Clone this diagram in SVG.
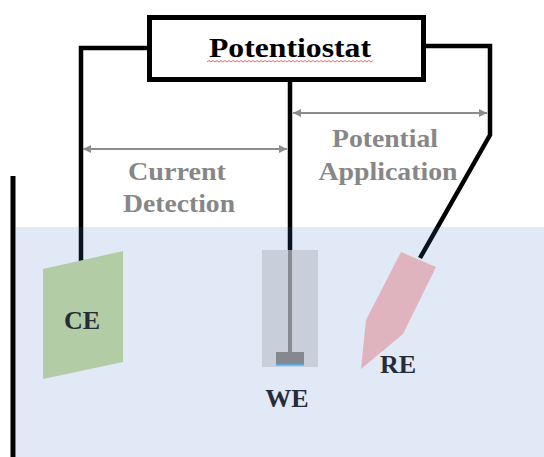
<svg xmlns="http://www.w3.org/2000/svg" width="544" height="457" viewBox="0 0 544 457">
  <defs>
    <marker id="arrowHead" viewBox="0 0 10 10" refX="10" refY="5" markerWidth="10" markerHeight="8" markerUnits="userSpaceOnUse" orient="auto-start-reverse">
      <path d="M0,0 L10,5 L0,10 Z" fill="#8c8c8c"/>
    </marker>
  </defs>
  <style>
    .wire { fill: none; stroke: #000; stroke-width: 4.5; stroke-linejoin: miter; }
    .dim { fill: none; stroke: #8c8c8c; stroke-width: 2; marker-start: url(#arrowHead); marker-end: url(#arrowHead); }
    .dimText { font-family: "Liberation Serif", "Times New Roman", serif; font-weight: bold; font-size: 25px; fill: #878787; text-anchor: middle; }
    .label { font-family: "Liberation Serif", "Times New Roman", serif; font-weight: bold; font-size: 26px; fill: #262b36; text-anchor: middle; }
  </style>

  <rect x="0" y="0" width="544" height="457" fill="#ffffff"/>

  <!-- container wall -->
  <line x1="13" y1="176" x2="13" y2="457" stroke="#000" stroke-width="5"/>

  <!-- connectors: wires from the potentiostat to the electrodes -->
  <g id="connectors">
    <polyline class="wire" points="149,48 81,48 81,262"/>
    <polyline class="wire" points="290,80 290,252"/>
    <polyline class="wire" points="424,46 490,46 490,135 420,258"/>
    <line class="dim" x1="83" y1="149" x2="287" y2="149"/>
    <line class="dim" x1="293" y1="113" x2="487" y2="113"/>
  </g>

  <!-- electrolyte -->
  <rect x="15.5" y="227" width="528.5" height="230" fill="#4472c4" fill-opacity="0.16"/>

  <g id="potentiostat">
    <rect x="149.5" y="17.5" width="274" height="62" fill="#ffffff" stroke="#000" stroke-width="5"/>
    <text x="290" y="57" font-family="Liberation Serif, 'Times New Roman', serif" font-weight="bold" font-size="28" fill="#000" text-anchor="middle" textLength="162" lengthAdjust="spacingAndGlyphs">Potentiostat</text>
    <polyline points="207,62 209,60.5 211,62 213,60.5 215,62 217,60.5 219,62 221,60.5 223,62 225,60.5 227,62 229,60.5 231,62 233,60.5 235,62 237,60.5 239,62 241,60.5 243,62 245,60.5 247,62 249,60.5 251,62 253,60.5 255,62 257,60.5 259,62 261,60.5 263,62 265,60.5 267,62 269,60.5 271,62 273,60.5 275,62 277,60.5 279,62 281,60.5 283,62 285,60.5 287,62 289,60.5 291,62 293,60.5 295,62 297,60.5 299,62 301,60.5 303,62 305,60.5 307,62 309,60.5 311,62 313,60.5 315,62 317,60.5 319,62 321,60.5 323,62 325,60.5 327,62 329,60.5 331,62 333,60.5 335,62 337,60.5 339,62 341,60.5 343,62 345,60.5 347,62 349,60.5 351,62 353,60.5 355,62 357,60.5 359,62 361,60.5 363,62 365,60.5 367,62 369,60.5 371,62 373,60.5" fill="none" stroke="#f06a6a" stroke-width="1"/>
  </g>

  <g id="current-detection">
    <text class="dimText" x="177" y="180" textLength="98" lengthAdjust="spacingAndGlyphs">Current</text>
    <text class="dimText" x="179" y="212" textLength="112" lengthAdjust="spacingAndGlyphs">Detection</text>
  </g>

  <g id="potential-application">
    <text class="dimText" x="385" y="147" textLength="106" lengthAdjust="spacingAndGlyphs">Potential</text>
    <text class="dimText" x="388" y="180" textLength="139" lengthAdjust="spacingAndGlyphs">Application</text>
  </g>

  <g id="CE">
    <polygon points="43,269 123,251 123,362 43,379" fill="#b2cca6"/>
    <text class="label" x="82" y="329">CE</text>
  </g>

  <g id="WE">
    <rect x="262" y="250" width="56" height="117" fill="#c9cfda"/>
    <rect x="288" y="250" width="4" height="103" fill="#878b93"/>
    <rect x="276" y="352" width="28" height="12" fill="#85888f"/>
    <rect x="276" y="363.5" width="28" height="2" fill="#4da6e0"/>
    <text class="label" x="287" y="407">WE</text>
  </g>

  <g id="RE">
    <polygon points="401,252 436,267 403,334 361,369 366,320" fill="#e0b4bf"/>
    <text class="label" x="398" y="373">RE</text>
  </g>
</svg>
